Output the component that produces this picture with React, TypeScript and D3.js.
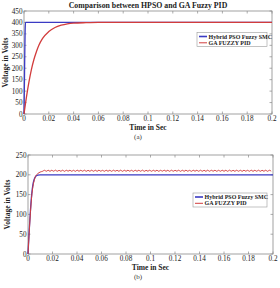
import React, { useEffect, useRef } from 'react';
import * as d3 from 'd3';

// shared axis ticks
const timeTicks = [0, 0.02, 0.04, 0.06, 0.08, 0.1, 0.12, 0.14, 0.16, 0.18, 0.2];
const voltTicksA = [0, 50, 100, 150, 200, 250, 300, 350, 400, 450];
const voltTicksB = [0, 50, 100, 150, 200, 250];

const seriesNames = ['Hybrid PSO Fuzzy SMC', 'GA FUZZY PID'];
const seriesColors = ['#3b3bc4', '#d23c3c'];

// panel (a)
const hpsoTimeA = [0, 0.0003, 0.0006, 0.0009, 0.0012, 0.2];
const hpsoVoltA = [0, 120, 250, 360, 400, 400];
const gaTimeA = [0, 0.002, 0.004, 0.006, 0.008, 0.01, 0.012, 0.015, 0.02, 0.025, 0.03, 0.035, 0.04, 0.05, 0.06, 0.2];
const gaVoltA = [0, 75, 140, 195, 238, 272, 300, 330, 360, 378, 388, 394, 397, 399, 400, 400];

// panel (b)
const hpsoTimeB = [0, 0.001, 0.002, 0.003, 0.004, 0.005, 0.006, 0.008, 0.01, 0.2];
const hpsoVoltB = [0, 60, 110, 150, 175, 188, 195, 199, 200, 200];
const gaTimeB = [0, 0.001, 0.002, 0.003, 0.004, 0.005, 0.006, 0.008, 0.01, 0.012];
const gaVoltB = [0, 55, 105, 145, 170, 185, 195, 203, 207, 209];
// steady-state ripple of GA FUZZY PID, sampled every 0.00148 s from 0.0135 s
const gaRippleStart = 0.0135;
const gaRippleStep = 0.00148;
const gaRippleB = [
  211.4, 209.0, 211.6, 208.8, 211.5, 209.1, 211.7, 208.9, 211.3, 209.0, 211.6, 208.8,
  211.5, 209.2, 211.6, 208.9, 211.4, 208.8, 211.7, 209.0, 211.5, 209.1, 211.6, 208.8,
  211.4, 208.9, 211.6, 209.0, 211.5, 208.8, 211.7, 209.1, 211.3, 208.9, 211.6, 209.0,
  211.5, 208.8, 211.6, 209.2, 211.4, 208.9, 211.7, 208.8, 211.5, 209.0, 211.6, 209.1,
  211.4, 208.8, 211.6, 208.9, 211.5, 209.0, 211.7, 208.8, 211.3, 209.1, 211.6, 208.9,
  211.5, 209.0, 211.6, 208.8, 211.4, 209.2, 211.7, 208.9, 211.5, 208.8, 211.6, 209.0,
  211.4, 209.1, 211.6, 208.8, 211.5, 208.9, 211.7, 209.0, 211.3, 208.8, 211.6, 209.1,
  211.5, 208.9, 211.6, 209.0, 211.4, 208.8, 211.7, 208.9, 211.5, 209.1, 211.6, 208.8,
  211.4, 209.0, 211.6, 208.9, 211.5, 208.8, 211.7, 209.1, 211.3, 208.9, 211.6, 209.0,
  211.5, 208.8, 211.6, 209.1, 211.4, 208.9, 211.7, 208.8, 211.5, 209.0, 211.6, 208.9,
  211.4, 209.0, 211.6, 208.8, 211.5, 209.1,
];

type Pt = { t: number; v: number };

interface PanelSpec {
  left: number;
  right: number;
  top: number;
  bottom: number;
  vMax: number;
  vTicks: number[];
  series: Pt[][];
  widths: number[];
  legend: { x: number; y: number; w: number; h: number };
  yTitleX: number;
  xTitleY: number;
  captionY: number;
  caption: string;
  title?: string;
}

const SERIF = '"Liberation Serif", "Times New Roman", serif';

function drawPanel(svg: d3.Selection<SVGSVGElement, unknown, null, undefined>, p: PanelSpec) {
  const x = d3.scaleLinear().domain([0, 0.2]).range([p.left, p.right]);
  const y = d3.scaleLinear().domain([0, p.vMax]).range([p.bottom, p.top]);
  const g = svg.append('g');

  // white plot area + box
  g.append('rect')
    .attr('x', p.left)
    .attr('y', p.top)
    .attr('width', p.right - p.left)
    .attr('height', p.bottom - p.top)
    .attr('fill', '#fff')
    .attr('stroke', '#8a8a8a')
    .attr('stroke-width', 0.8);

  // inside ticks on all four sides
  const tk = 2.5;
  timeTicks.forEach((t) => {
    g.append('line').attr('x1', x(t)).attr('x2', x(t)).attr('y1', p.bottom).attr('y2', p.bottom - tk)
      .attr('stroke', '#8a8a8a').attr('stroke-width', 0.7);
    g.append('line').attr('x1', x(t)).attr('x2', x(t)).attr('y1', p.top).attr('y2', p.top + tk)
      .attr('stroke', '#8a8a8a').attr('stroke-width', 0.7);
  });
  p.vTicks.forEach((v) => {
    g.append('line').attr('x1', p.left).attr('x2', p.left + tk).attr('y1', y(v)).attr('y2', y(v))
      .attr('stroke', '#8a8a8a').attr('stroke-width', 0.7);
    g.append('line').attr('x1', p.right).attr('x2', p.right - tk).attr('y1', y(v)).attr('y2', y(v))
      .attr('stroke', '#8a8a8a').attr('stroke-width', 0.7);
  });

  // tick labels
  g.selectAll('.xl')
    .data(timeTicks)
    .enter()
    .append('text')
    .attr('x', (d) => x(d))
    .attr('y', p.bottom + 7)
    .attr('text-anchor', 'middle')
    .attr('font-family', SERIF)
    .attr('font-size', 7.2)
    .attr('fill', '#222')
    .text((d) => String(+d.toFixed(2)));

  g.selectAll('.yl')
    .data(p.vTicks)
    .enter()
    .append('text')
    .attr('x', p.left - 1.5)
    .attr('y', (d) => y(d) + 2.5)
    .attr('text-anchor', 'end')
    .attr('font-family', SERIF)
    .attr('font-size', 7.2)
    .attr('fill', '#222')
    .text((d) => String(d));

  // lines
  const line = d3
    .line<Pt>()
    .x((d) => x(d.t))
    .y((d) => y(d.v))
    .curve(d3.curveMonotoneX);

  p.series.forEach((s, i) => {
    g.append('path')
      .datum(s)
      .attr('fill', 'none')
      .attr('stroke', seriesColors[i])
      .attr('stroke-width', p.widths[i])
      .attr('d', line);
  });

  // legend
  const lg = g.append('g').attr('transform', `translate(${p.legend.x},${p.legend.y})`);
  lg.append('rect')
    .attr('width', p.legend.w)
    .attr('height', p.legend.h)
    .attr('fill', '#fff')
    .attr('stroke', '#999')
    .attr('stroke-width', 0.6);
  seriesNames.forEach((name, i) => {
    const ly = 4 + i * 6.3;
    lg.append('line')
      .attr('x1', 2)
      .attr('x2', 10)
      .attr('y1', ly)
      .attr('y2', ly)
      .attr('stroke', seriesColors[i])
      .attr('stroke-width', i === 0 ? 1.6 : 1);
    lg.append('text')
      .attr('x', 11.5)
      .attr('y', ly + 2)
      .attr('font-family', SERIF)
      .attr('font-size', 6)
      .attr('font-weight', 'bold')
      .attr('fill', '#222')
      .text(name);
  });

  // axis titles
  g.append('text')
    .attr('transform', `translate(${p.yTitleX},${(p.top + p.bottom) / 2}) rotate(-90)`)
    .attr('text-anchor', 'middle')
    .attr('font-family', SERIF)
    .attr('font-size', 7.5)
    .attr('font-weight', 'bold')
    .attr('fill', '#222')
    .text('Voltage in Volts');

  g.append('text')
    .attr('x', (p.left + p.right) / 2)
    .attr('y', p.xTitleY)
    .attr('text-anchor', 'middle')
    .attr('font-family', SERIF)
    .attr('font-size', 7.5)
    .attr('font-weight', 'bold')
    .attr('fill', '#222')
    .text('Time in Sec');

  if (p.title) {
    g.append('text')
      .attr('x', (p.left + p.right) / 2)
      .attr('y', p.top - 3)
      .attr('text-anchor', 'middle')
      .attr('font-family', SERIF)
      .attr('font-size', 7.8)
      .attr('font-weight', 'bold')
      .attr('fill', '#222')
      .text(p.title);
  }

  g.append('text')
    .attr('x', 138)
    .attr('y', p.captionY)
    .attr('text-anchor', 'middle')
    .attr('font-family', SERIF)
    .attr('font-size', 7)
    .attr('fill', '#333')
    .text(p.caption);
}

const zip = (ts: number[], vs: number[]): Pt[] => ts.map((t, i) => ({ t, v: vs[i] }));

export default function App() {
  const svgRef = useRef<SVGSVGElement | null>(null);

  useEffect(() => {
    if (!svgRef.current) return;
    const svg = d3.select(svgRef.current);
    svg.selectAll('*').remove();

    drawPanel(svg, {
      left: 24,
      right: 272,
      top: 11,
      bottom: 114,
      vMax: 450,
      vTicks: voltTicksA,
      series: [zip(hpsoTimeA, hpsoVoltA), zip(gaTimeA, gaVoltA)],
      widths: [1.3, 1.3],
      legend: { x: 197, y: 32.5, w: 70, h: 14 },
      yTitleX: 8,
      xTitleY: 129.5,
      captionY: 139,
      caption: '(a)',
      title: 'Comparison between HPSO and GA Fuzzy PID',
    });

    const ripple = gaRippleB.map((v, i) => ({ t: gaRippleStart + i * gaRippleStep, v }));
    drawPanel(svg, {
      left: 28,
      right: 273,
      top: 155,
      bottom: 254,
      vMax: 250,
      vTicks: voltTicksB,
      series: [zip(hpsoTimeB, hpsoVoltB), [...zip(gaTimeB, gaVoltB), ...ripple]],
      widths: [1.3, 1],
      legend: { x: 193, y: 193, w: 74, h: 14 },
      yTitleX: 10,
      xTitleY: 269.5,
      captionY: 279,
      caption: '(b)',
    });
  }, []);

  return (
    <div style={{ position: 'fixed', left: 0, top: 0, width: 280, height: 288, background: '#fff' }}>
      <svg ref={svgRef} width={280} height={288} />
    </div>
  );
}
